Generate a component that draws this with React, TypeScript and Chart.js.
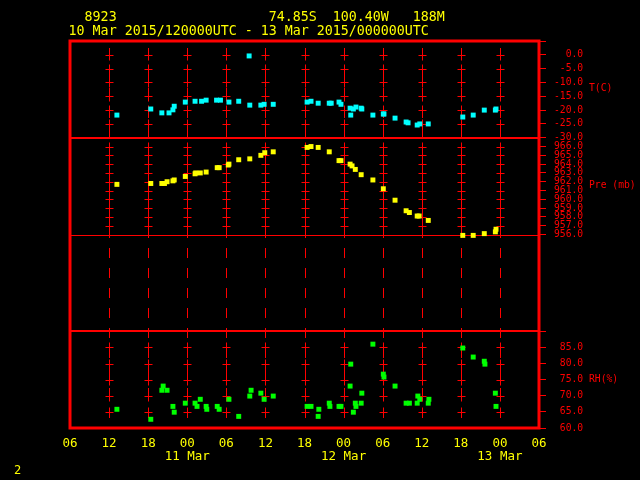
import { useEffect, useRef } from 'react';
import { Chart, registerables } from 'chart.js';

Chart.register(...registerables);

// Hours after 10 Mar 2015 06 UTC
const tempHours = [7.2, 12.4, 14.1, 15.2, 15.8, 16.0, 17.7, 19.2, 20.2, 20.9, 22.5, 23.1, 24.4, 25.9, 27.5, 27.6, 29.3, 29.8, 31.2, 36.4, 37.0, 38.1, 39.8, 40.1, 41.3, 41.6, 43.0, 43.1, 43.5, 43.9, 44.7, 44.8, 46.5, 48.1, 48.2, 49.9, 51.6, 51.9, 53.3, 53.7, 55.0, 60.3, 61.9, 63.6, 65.3, 65.4];
const tempValues = [-21.8, -19.6, -21.0, -21.0, -19.9, -18.6, -17.1, -16.8, -16.8, -16.4, -16.4, -16.4, -17.1, -16.8, -0.4, -18.2, -18.2, -17.9, -17.9, -17.1, -16.8, -17.5, -17.5, -17.5, -17.1, -17.9, -19.3, -21.8, -19.6, -18.9, -19.3, -19.6, -21.8, -21.4, -21.4, -22.9, -24.3, -24.6, -25.4, -25.0, -25.0, -22.5, -21.8, -20.0, -20.0, -19.6];

const presHours = [7.2, 12.4, 14.1, 14.5, 14.9, 15.8, 16.0, 17.7, 19.2, 19.3, 20.0, 20.9, 22.6, 22.9, 24.3, 24.4, 25.9, 27.6, 29.3, 29.9, 31.2, 36.4, 37.0, 38.1, 39.8, 41.3, 41.6, 43.0, 43.3, 43.8, 44.7, 46.5, 48.1, 49.9, 51.6, 52.1, 53.3, 53.6, 55.0, 60.3, 61.9, 63.6, 65.3, 65.4];
const presValues = [961.7, 961.8, 961.8, 961.8, 962.0, 962.1, 962.2, 962.6, 962.9, 963.0, 963.0, 963.1, 963.6, 963.6, 963.9, 964.0, 964.5, 964.6, 965.0, 965.3, 965.4, 965.9, 966.0, 965.9, 965.4, 964.4, 964.4, 964.0, 963.8, 963.4, 962.8, 962.2, 961.2, 959.9, 958.7, 958.5, 958.1, 958.1, 957.6, 955.9, 955.9, 956.1, 956.3, 956.6];

const rhHours = [7.2, 12.4, 14.1, 14.3, 14.9, 15.8, 16.0, 17.7, 19.2, 19.5, 20.0, 20.9, 21.0, 22.6, 22.9, 24.4, 25.9, 27.6, 27.8, 29.3, 29.8, 31.2, 36.4, 37.0, 38.1, 38.2, 39.8, 39.9, 41.3, 41.6, 43.0, 43.1, 43.5, 43.8, 43.9, 44.7, 44.8, 46.5, 48.1, 48.2, 49.9, 51.6, 52.1, 53.3, 53.4, 53.7, 55.0, 55.1, 60.3, 61.9, 63.6, 63.7, 65.3, 65.4];
const rhValues = [65.8, 62.7, 71.7, 73.0, 71.7, 66.7, 64.9, 67.7, 67.7, 66.7, 68.9, 66.7, 65.8, 66.7, 65.8, 68.9, 63.6, 69.9, 71.7, 70.8, 68.9, 69.9, 66.7, 66.7, 63.6, 65.8, 67.7, 66.7, 66.7, 66.7, 73.0, 79.8, 64.9, 67.7, 66.7, 67.7, 70.8, 86.0, 76.7, 75.8, 73.0, 67.7, 67.7, 67.7, 69.9, 68.9, 67.7, 68.9, 84.8, 82.0, 80.7, 79.8, 70.8, 66.7];

const startHourUTC = 6;
const dateLabels: Record<number, string> = { 18: '11 Mar', 42: '12 Mar', 66: '13 Mar' };
const headerLine1 = '  8923                   74.85S  100.40W   188M';
const headerLine2 = '10 Mar 2015/120000UTC - 13 Mar 2015/000000UTC';
const panelTitles = ['T(C)', 'Pre (mb)', 'RH(%)'];
const footerText = '2';

const RED = '#ff0000';
const YELLOW = '#ffff00';
const CYAN = '#00ffff';
const GREEN = '#00ff00';
const MONO = '"DejaVu Sans Mono", monospace';

const metPlugin = {
  id: 'metPlot',
  beforeDraw(chart: any) {
    const { ctx, width, height } = chart;
    ctx.save();
    ctx.fillStyle = '#000';
    ctx.fillRect(0, 0, width, height);
    ctx.restore();
  },
  beforeDatasetsDraw(chart: any) {
    const { ctx, chartArea: ca, scales } = chart;
    const xs = scales.x;
    ctx.save();
    ctx.strokeStyle = RED;
    ctx.lineWidth = 1;
    const xPix: number[] = [];
    for (const t of xs.ticks) {
      if (t.value > xs.min && t.value < xs.max) xPix.push(Math.round(xs.getPixelForValue(t.value)) + 0.5);
    }
    // dashed vertical lines
    ctx.setLineDash([10, 10]);
    ctx.lineDashOffset = 13;
    for (const px of xPix) {
      ctx.beginPath();
      ctx.moveTo(px, ca.top);
      ctx.lineTo(px, ca.bottom);
      ctx.stroke();
    }
    ctx.setLineDash([]);
    // crosses at each tick level
    for (const id of ['yT', 'yP', 'yRH']) {
      const s = scales[id];
      for (const t of s.ticks) {
        if (t.value <= s.min || t.value >= s.max) continue;
        const py = Math.round(s.getPixelForValue(t.value)) + 0.5;
        for (const px of xPix) {
          ctx.beginPath();
          ctx.moveTo(px - 4, py);
          ctx.lineTo(px + 4, py);
          ctx.moveTo(px, py - 5);
          ctx.lineTo(px, py + 5);
          ctx.stroke();
        }
      }
    }
    // panel dividers
    const divider = (y: number, w: number) => {
      ctx.lineWidth = w;
      ctx.beginPath();
      ctx.moveTo(ca.left, y);
      ctx.lineTo(ca.right, y);
      ctx.stroke();
    };
    divider(Math.round(scales.yT.bottom), 2);
    divider(Math.round(scales.yP.bottom) + 0.5, 1);
    divider(Math.round(scales.yE.bottom), 2);
    // frame
    ctx.lineWidth = 3;
    ctx.strokeRect(ca.left, ca.top, ca.right - ca.left, ca.bottom - ca.top);
    ctx.restore();
  },
  afterDraw(chart: any) {
    const { ctx, scales } = chart;
    ctx.save();
    ctx.textBaseline = 'middle';
    ctx.textAlign = 'left';
    ctx.fillStyle = YELLOW;
    ctx.font = `13.3px ${MONO}`;
    ctx.fillText(headerLine1, 68.6, 18);
    ctx.fillText(headerLine2, 68.6, 32);
    ctx.font = `12px ${MONO}`;
    ctx.fillText(footerText, 14, 471);
    ctx.fillStyle = RED;
    ctx.font = `9.7px ${MONO}`;
    const tx = scales.yT.right - 51;
    ctx.fillText(panelTitles[0], tx, scales.yT.getPixelForValue(-12));
    ctx.fillText(panelTitles[1], tx, scales.yP.getPixelForValue(961.6));
    ctx.fillText(panelTitles[2], tx, scales.yRH.getPixelForValue(75));
    ctx.restore();
  },
};

const rightAxis = (min: number, max: number, step: number, hideAbove: number) => ({
  type: 'linear' as const,
  position: 'right' as const,
  stack: 'panels',
  stackWeight: 1,
  min,
  max,
  afterFit: (s: any) => { s.width = 101; },
  border: { display: false },
  grid: { display: true, drawOnChartArea: false, drawTicks: true, tickLength: 7, tickColor: RED, color: RED },
  ticks: {
    stepSize: step,
    autoSkip: false,
    padding: 8,
    color: RED,
    font: { family: MONO, size: 9.7, lineHeight: 1 },
    callback: (v: any) => (Number(v) >= hideAbove ? '' : Number(v).toFixed(1).padStart(5)),
  },
});

export default function App() {
  const ref = useRef<HTMLCanvasElement>(null);
  useEffect(() => {
    const canvas = ref.current;
    if (!canvas) return;
    const pt = (color: string) => ({
      pointStyle: 'rect' as const,
      pointRadius: 3.5,
      pointBorderWidth: 0,
      pointBackgroundColor: color,
      pointBorderColor: color,
      backgroundColor: color,
      borderColor: color,
      showLine: false,
      clip: false as const,
    });
    const chart = new Chart(canvas, {
      type: 'scatter',
      data: {
        datasets: [
          { label: 'T(C)', data: tempHours.map((h, i) => ({ x: h, y: tempValues[i] })), yAxisID: 'yT', ...pt(CYAN) },
          { label: 'Pre (mb)', data: presHours.map((h, i) => ({ x: h, y: presValues[i] })), yAxisID: 'yP', ...pt(YELLOW) },
          { label: 'RH(%)', data: rhHours.map((h, i) => ({ x: h, y: rhValues[i] })), yAxisID: 'yRH', ...pt(GREEN) },
        ],
      },
      options: {
        responsive: false,
        animation: false,
        events: [],
        layout: { padding: { left: 70, top: 41, right: 0, bottom: 0 } },
        plugins: { legend: { display: false }, tooltip: { enabled: false }, title: { display: false } },
        scales: {
          x: {
            type: 'linear',
            position: 'bottom',
            min: 0,
            max: 72,
            afterFit: (s: any) => { s.height = 52; },
            border: { display: false },
            grid: { display: false, drawTicks: false, tickLength: 0 },
            ticks: {
              stepSize: 6,
              autoSkip: false,
              maxRotation: 0,
              minRotation: 0,
              padding: 9,
              color: YELLOW,
              font: { family: MONO, size: 12.5, lineHeight: 1.05 },
              callback: (v: any) => {
                const h = Math.round(Number(v));
                const hh = String((startHourUTC + h) % 24).padStart(2, '0');
                return dateLabels[h] ? [hh, dateLabels[h]] : hh;
              },
            },
          },
          yT: rightAxis(-30, 5, 5, 5),
          yP: rightAxis(956, 967, 1, 967),
          yE: {
            type: 'linear',
            position: 'right',
            stack: 'panels',
            stackWeight: 1,
            min: 0,
            max: 1,
            afterFit: (s: any) => { s.width = 101; },
            border: { display: false },
            grid: { display: false, drawTicks: false },
            ticks: { display: false },
          },
          yRH: rightAxis(60, 90, 5, 90),
        },
      } as any,
      plugins: [metPlugin],
    });
    return () => chart.destroy();
  }, []);
  return (
    <div style={{ position: 'fixed', left: 0, top: 0, width: 640, height: 480, background: '#000' }}>
      <canvas ref={ref} width={640} height={480} style={{ display: 'block' }} />
    </div>
  );
}
